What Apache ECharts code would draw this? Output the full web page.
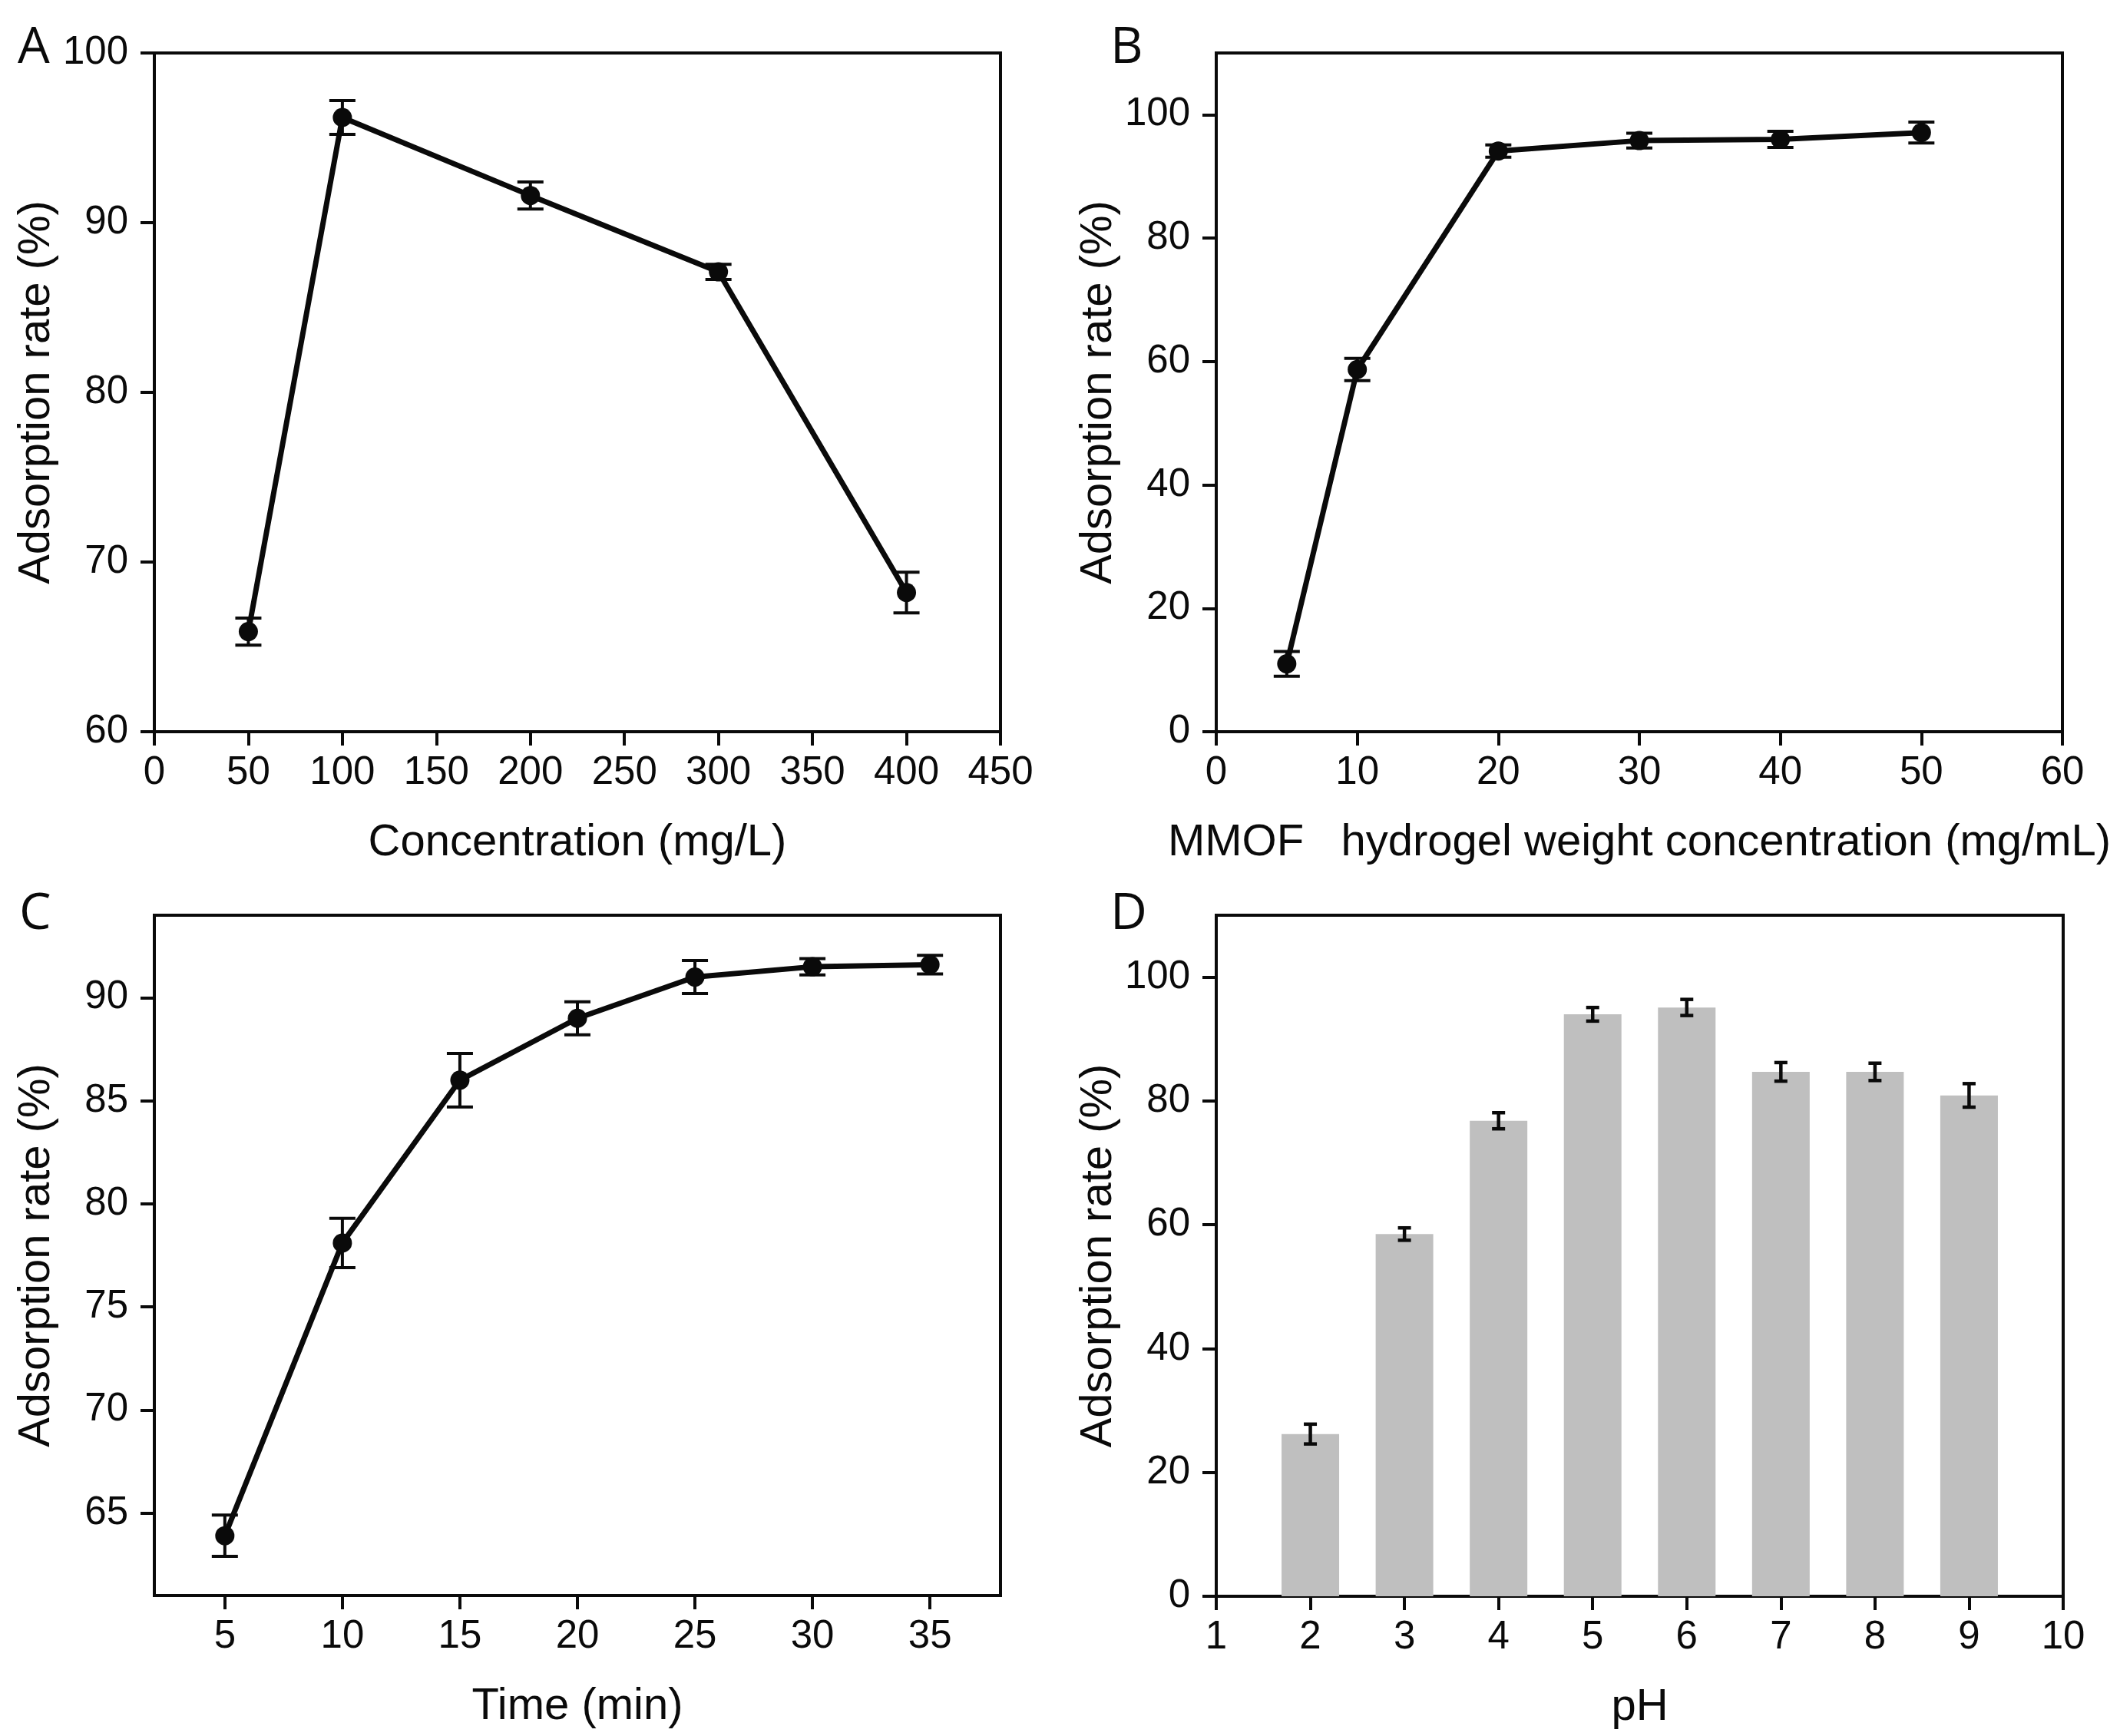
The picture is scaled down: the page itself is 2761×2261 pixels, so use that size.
<!DOCTYPE html>
<html>
<head>
<meta charset="utf-8">
<script src="https://cdn.jsdelivr.net/npm/echarts@6/dist/echarts.min.js"></script>
<style>
html,body{margin:0;padding:0;background:#fff;}
#c{width:2761px;height:2261px;}
</style>
</head>
<body>
<div id="c"></div>
<script>
// Panel A
const concA = [50, 100, 200, 300, 400];
const rateA = [65.9, 96.2, 91.6, 87.1, 68.2];
const errA = [0.8, 1.0, 0.8, 0.45, 1.2];
// Panel B
const doseB = [5, 10, 20, 30, 40, 50];
const rateB = [11.0, 58.7, 94.1, 95.8, 96.0, 97.1];
const errB = [2.0, 1.8, 1.0, 1.2, 1.3, 1.7];
// Panel C
const timeC = [5, 10, 15, 20, 25, 30, 35];
const rateC = [63.9, 78.1, 86.0, 89.0, 91.0, 91.5, 91.6];
const errC = [1.0, 1.2, 1.3, 0.8, 0.8, 0.4, 0.45];
// Panel D
const phD = [2, 3, 4, 5, 6, 7, 8, 9];
const rateD = [26.2, 58.5, 76.8, 94.0, 95.1, 84.7, 84.7, 80.9];
const errD = [1.6, 1.0, 1.3, 1.1, 1.3, 1.5, 1.4, 1.9];
// tick labels
const ticksBDy = [0, 20, 40, 60, 80, 100];
const ticksCx = [5, 10, 15, 20, 25, 30, 35];
const ticksCy = [65, 70, 75, 80, 85, 90];
const panelLetters = ['A', 'B', 'C', 'D'];
const titleA = 'Concentration (mg/L)';
const titleB = 'MMOF\u00a0\u00a0 hydrogel weight concentration (mg/mL)';
const titleC = 'Time (min)';
const titleD = 'pH';
const titleY = 'Adsorption rate (%)';

const FONT = 'Liberation Sans, Arial, sans-serif';
const BLACK = '#0a0a0a';

const chart = echarts.init(document.getElementById('c'), null, {renderer: 'canvas'});

function grid(left, top, w, h) {
  return {left: left, top: top, width: w, height: h, show: true, borderColor: BLACK, borderWidth: 4, backgroundColor: 'transparent', containLabel: false};
}
function axis(type, gi, min, max, opts) {
  const o = {
    type: 'value', gridIndex: gi, min: min, max: max,
    axisLine: {show: true, onZero: false, lineStyle: {color: BLACK, width: 4}},
    axisTick: {show: true, inside: false, length: 18, lineStyle: {color: BLACK, width: 4}},
    axisLabel: {show: true, color: BLACK, fontFamily: FONT, fontSize: 51, margin: type === 'x' ? 28 : 34},
    splitLine: {show: false},
    nameLocation: 'middle',
    nameTextStyle: {color: BLACK, fontFamily: FONT, fontSize: 58},
    nameGap: type === 'x' ? 116 : 124
  };
  if (opts.interval != null) o.interval = opts.interval;
  if (opts.ticks) {
    o.axisLabel.customValues = opts.ticks;
    o.axisTick.customValues = opts.ticks;
  }
  if (opts.name) o.name = opts.name;
  return o;
}
function pairs(xs, ys) { return xs.map((x, i) => [x, ys[i]]); }
function triples(xs, ys, es) { return xs.map((x, i) => [x, ys[i], es[i]]); }

function errSeries(gi, xs, ys, es, cap, lw) {
  return {
    type: 'custom', xAxisIndex: gi, yAxisIndex: gi, z: 3,
    data: triples(xs, ys, es),
    renderItem: function (params, api) {
      const x = api.value(0), y = api.value(1), e = api.value(2);
      const hi = api.coord([x, y + e]);
      const lo = api.coord([x, y - e]);
      const st = {stroke: BLACK, lineWidth: lw};
      return {type: 'group', children: [
        {type: 'line', shape: {x1: hi[0], y1: hi[1], x2: lo[0], y2: lo[1]}, style: st},
        {type: 'line', shape: {x1: hi[0] - cap / 2, y1: hi[1], x2: hi[0] + cap / 2, y2: hi[1]}, style: st},
        {type: 'line', shape: {x1: lo[0] - cap / 2, y1: lo[1], x2: lo[0] + cap / 2, y2: lo[1]}, style: st}
      ]};
    }
  };
}
function lineSeries(gi, xs, ys) {
  return {
    type: 'line', xAxisIndex: gi, yAxisIndex: gi, z: 4,
    data: pairs(xs, ys),
    symbol: 'circle', symbolSize: 25,
    itemStyle: {color: BLACK},
    lineStyle: {color: BLACK, width: 7},
    silent: true, animation: false
  };
}

const letterPos = [[23, 30], [1446, 30], [25, 1158], [1446, 1158]];

const option = {
  animation: false,
  backgroundColor: '#fff',
  grid: [
    grid(201, 69, 1102, 884),
    grid(1584, 69, 1102, 884),
    grid(201, 1192, 1102, 886),
    grid(1584, 1192, 1103, 887)
  ],
  xAxis: [
    axis('x', 0, 0, 450, {interval: 50, name: titleA}),
    axis('x', 1, 0, 60, {interval: 10, name: titleB}),
    axis('x', 2, 2, 38, {ticks: ticksCx, name: titleC}),
    axis('x', 3, 1, 10, {interval: 1, name: titleD})
  ],
  yAxis: [
    axis('y', 0, 60, 100, {interval: 10, name: titleY}),
    axis('y', 1, 0, 110, {ticks: ticksBDy, name: titleY}),
    axis('y', 2, 61, 94, {ticks: ticksCy, name: titleY}),
    axis('y', 3, 0, 110, {ticks: ticksBDy, name: titleY})
  ],
  series: [
    errSeries(0, concA, rateA, errA, 34, 4),
    lineSeries(0, concA, rateA),
    errSeries(1, doseB, rateB, errB, 34, 4),
    lineSeries(1, doseB, rateB),
    errSeries(2, timeC, rateC, errC, 34, 4),
    lineSeries(2, timeC, rateC),
    {
      type: 'bar', xAxisIndex: 3, yAxisIndex: 3, z: 2,
      data: pairs(phD, rateD), barWidth: 75,
      itemStyle: {color: '#bfbfbf'}, silent: true
    },
    errSeries(3, phD, rateD, errD, 17, 4.5)
  ],
  graphic: panelLetters.map((t, i) => ({
    type: 'text', left: letterPos[i][0], top: letterPos[i][1],
    style: {text: t, fontFamily: 'Open Sans, Noto Sans, sans-serif', fontSize: 66, fill: BLACK}
  }))
};
chart.setOption(option);
</script>
</body>
</html>
